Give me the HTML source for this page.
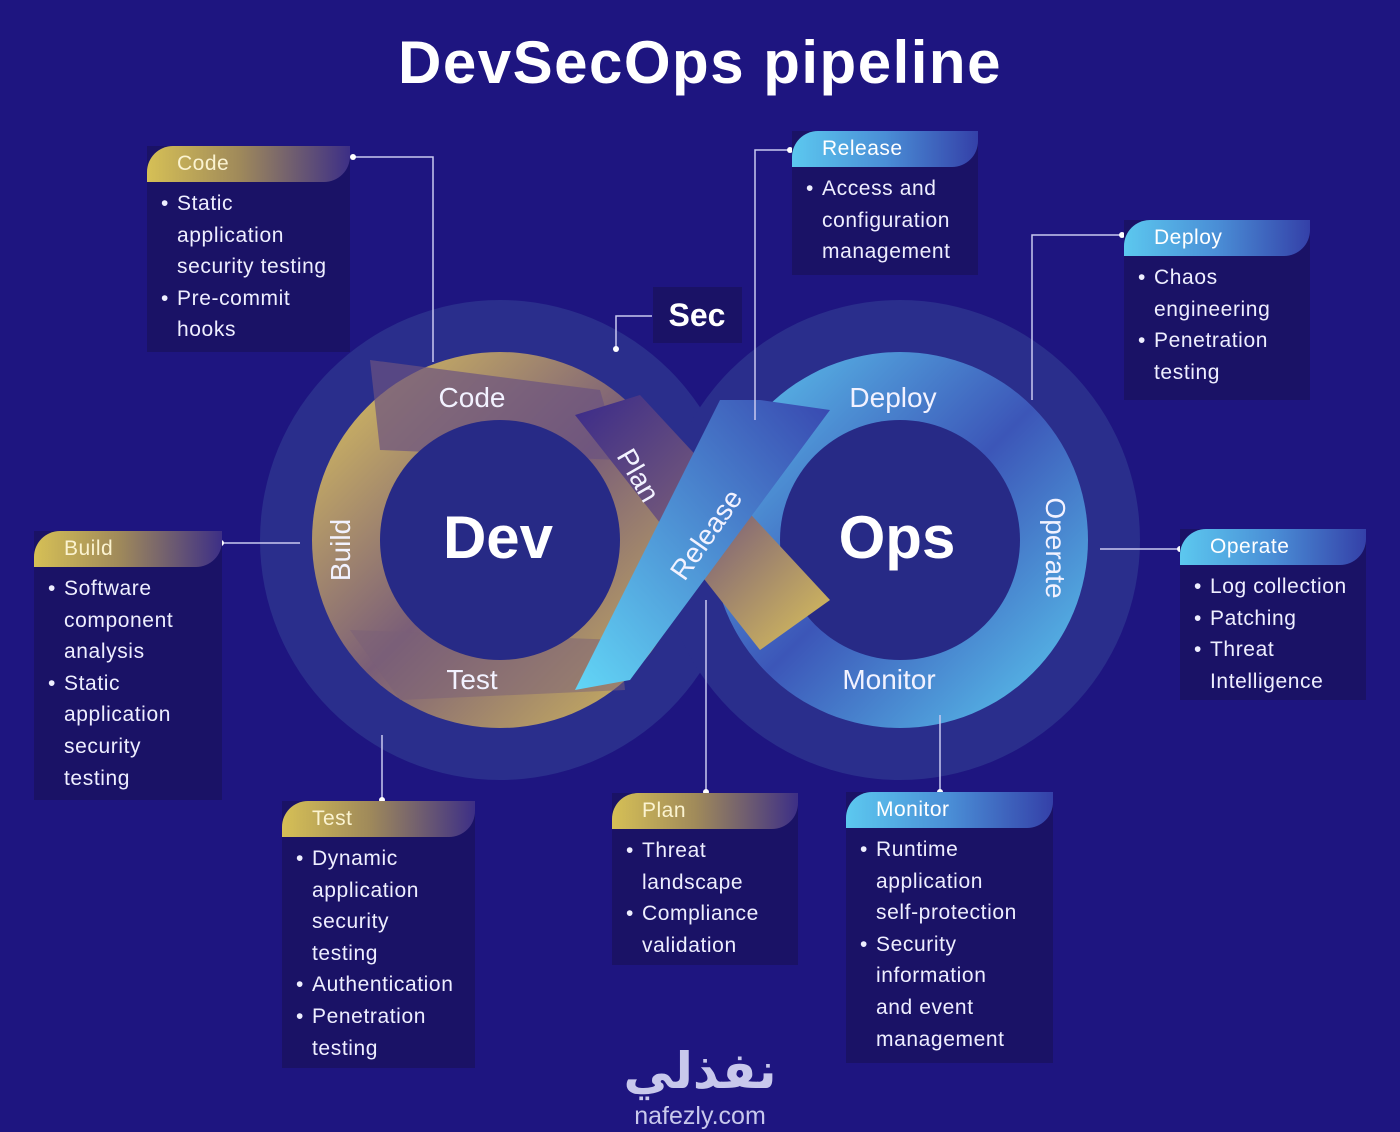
<!DOCTYPE html>
<html><head><meta charset="utf-8"><style>
body{margin:0;width:1400px;height:1132px;background:#1e1580;font-family:"Liberation Sans",sans-serif;overflow:hidden;position:relative;color:#fff}
.box{position:absolute;background:#1a1266}
.hd{height:36px;border-radius:26px 0 26px 0;font-size:21px;line-height:36px;padding-left:30px;color:#fff;letter-spacing:0.5px}
.g{background:linear-gradient(90deg,#d6c056 0%,#a08a5a 45%,#3d2f86 100%);color:#fbf3d0}
.b{background:linear-gradient(90deg,#5cc8ef 0%,#4a8ed6 50%,#3440a8 100%)}
ul{margin:0;padding:6px 0 8px 30px;list-style:none;font-size:21px;line-height:31.6px;color:#eef;letter-spacing:0.6px}
li{position:relative}
li:before{content:"•";position:absolute;left:-16px}
</style></head><body>
<div style="position:absolute;left:0;width:1400px;top:28px;text-align:center;font-size:60px;font-weight:bold;letter-spacing:1.5px">DevSecOps pipeline</div>

<svg width="1400" height="1132" style="position:absolute;left:0;top:0">
<defs>
<linearGradient id="gl" x1="0" y1="0" x2="1" y2="1"><stop offset="0" stop-color="#e2c95c"/><stop offset=".5" stop-color="#7a5e78"/><stop offset="1" stop-color="#d8bf5a"/></linearGradient>
<linearGradient id="bl" x1="0" y1="0" x2="1" y2="1"><stop offset="0" stop-color="#5ecbf0"/><stop offset=".5" stop-color="#3c56b8"/><stop offset="1" stop-color="#5ccff2"/></linearGradient>
<linearGradient id="rl" x1="0" y1="1" x2="1" y2="0"><stop offset="0" stop-color="#62d6f6"/><stop offset="1" stop-color="#3848b0"/></linearGradient>
<linearGradient id="pl" x1="0" y1="0" x2="1" y2="1"><stop offset="0" stop-color="#3a2a8a"/><stop offset=".5" stop-color="#7a5e78"/><stop offset="1" stop-color="#dcc35a"/></linearGradient>
</defs>
<circle cx="500" cy="540" r="240" fill="#2a2e8c"/>
<circle cx="900" cy="540" r="240" fill="#2a2e8c"/>
<circle cx="500" cy="540" r="188" fill="url(#gl)"/>
<circle cx="900" cy="540" r="188" fill="url(#bl)"/>
<path d="M370 360 L600 390 L620 460 L380 450 Z" fill="#6b5280" opacity=".7"/>
<path d="M350 630 L620 640 L625 690 L400 700 Z" fill="#7a6078" opacity=".5"/>
<circle cx="500" cy="540" r="120" fill="#272a86"/>
<circle cx="900" cy="540" r="120" fill="#272a86"/>
<polygon points="575,415 640,395 830,600 760,650" fill="url(#pl)"/>
<polygon points="575,690 630,680 830,410 760,400 720,400" fill="url(#rl)"/>
<g stroke="#c9c9f0" stroke-width="1.5" fill="none">
<polyline points="353,157 433,157 433,362"/>
<polyline points="790,150 755,150 755,420"/>
<polyline points="1122,235 1032,235 1032,400"/>
<line x1="221" y1="543" x2="300" y2="543"/>
<line x1="1180" y1="549" x2="1100" y2="549"/>
<line x1="382" y1="800" x2="382" y2="735"/>
<line x1="706" y1="792" x2="706" y2="600"/>
<line x1="940" y1="792" x2="940" y2="715"/>
<polyline points="616,349 616,316 652,316"/>
</g>
<g fill="#fff"><circle cx="353" cy="157" r="3"/><circle cx="790" cy="150" r="3"/><circle cx="1122" cy="235" r="3"/><circle cx="221" cy="543" r="3"/><circle cx="1180" cy="549" r="3"/><circle cx="382" cy="800" r="3"/><circle cx="706" cy="792" r="3"/><circle cx="940" cy="792" r="3"/><circle cx="616" cy="349" r="3"/></g>
<g font-size="28" fill="#f2f2ff" text-anchor="middle">
<text x="472" y="407">Code</text>
<text x="472" y="689">Test</text>
<text x="893" y="407">Deploy</text>
<text x="889" y="689">Monitor</text>
<text transform="translate(350,550) rotate(-90)">Build</text>
<text transform="translate(1046,548) rotate(90)">Operate</text>
<text transform="translate(630,480) rotate(60)">Plan</text>
<text transform="translate(714,540) rotate(-55)">Release</text>
</g>
<g font-size="60" font-weight="bold" fill="#fff" text-anchor="middle">
<text x="498" y="558">Dev</text><text x="897" y="558">Ops</text>
</g>
<rect x="653" y="287" width="89" height="56" fill="#1a1266"/>
<text x="697" y="326" font-size="32" font-weight="bold" fill="#fff" text-anchor="middle">Sec</text>
<text x="700" y="1088" font-size="50" font-weight="bold" fill="#c8c8ec" text-anchor="middle" font-family="DejaVu Sans,sans-serif">نفذلي</text>
<text x="700" y="1124" font-size="25" fill="#c8c8ec" text-anchor="middle">nafezly.com</text>
</svg>

<div class="box" style="left:147px;top:146px;width:203px;height:206px"><div class="hd g">Code</div><ul><li>Static<br>application<br>security testing</li><li>Pre-commit<br>hooks</li></ul></div>
<div class="box" style="left:792px;top:131px;width:186px;height:144px"><div class="hd b">Release</div><ul><li>Access and<br>configuration<br>management</li></ul></div>
<div class="box" style="left:1124px;top:220px;width:186px;height:180px"><div class="hd b">Deploy</div><ul><li>Chaos<br>engineering</li><li>Penetration<br>testing</li></ul></div>
<div class="box" style="left:34px;top:531px;width:188px;height:269px"><div class="hd g">Build</div><ul><li>Software<br>component<br>analysis</li><li>Static<br>application<br>security<br>testing</li></ul></div>
<div class="box" style="left:1180px;top:529px;width:186px;height:171px"><div class="hd b">Operate</div><ul><li>Log collection</li><li>Patching</li><li>Threat<br>Intelligence</li></ul></div>
<div class="box" style="left:282px;top:801px;width:193px;height:267px"><div class="hd g">Test</div><ul><li>Dynamic<br>application<br>security<br>testing</li><li>Authentication</li><li>Penetration<br>testing</li></ul></div>
<div class="box" style="left:612px;top:793px;width:186px;height:172px"><div class="hd g">Plan</div><ul><li>Threat<br>landscape</li><li>Compliance<br>validation</li></ul></div>
<div class="box" style="left:846px;top:792px;width:207px;height:271px"><div class="hd b">Monitor</div><ul><li>Runtime<br>application<br>self-protection</li><li>Security<br>information<br>and event<br>management</li></ul></div>
</body></html>
